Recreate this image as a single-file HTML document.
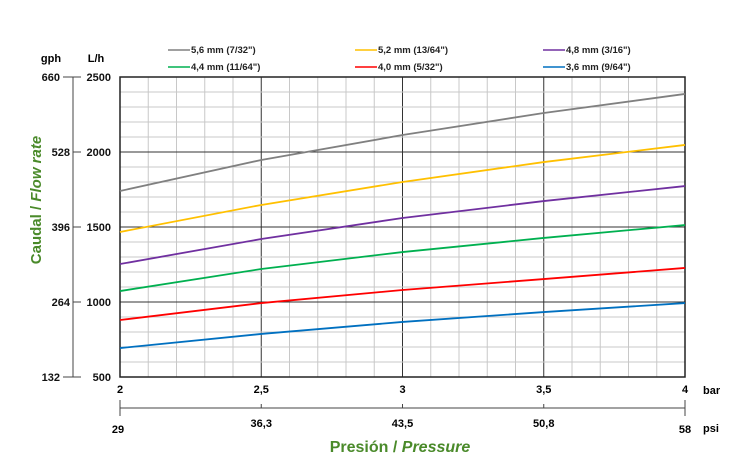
<!DOCTYPE html>
<html><head><meta charset="utf-8"><style>
body{margin:0;background:#fff;}
svg text{font-family:"Liberation Sans",sans-serif;}
</style></head><body>
<svg id="chart" width="741" height="470" xmlns="http://www.w3.org/2000/svg">
<g id="grid"></g>
<g id="series"></g>
<g id="axes"></g>
<g id="legend"></g>
<text x="41" y="200" transform="rotate(-90 41 200)" text-anchor="middle" font-size="15" font-weight="bold" fill="#4a8a2a">Caudal / <tspan font-style="italic">Flow rate</tspan></text>
<text x="400" y="452" text-anchor="middle" font-size="16" font-weight="bold" fill="#4a8a2a">Presión / <tspan font-style="italic">Pressure</tspan></text>
</svg>
<script>
const pressures=[2,2.5,3,3.5,4];
const barTicks=["2","2,5","3","3,5","4"];
const psiTicks=["29","36,3","43,5","50,8","58"];
const lhTicks=[500,1000,1500,2000,2500];
const gphTicks=["132","264","396","528","660"];
const seriesNames=['5,6 mm (7/32")','5,2 mm (13/64")','4,8 mm (3/16")','4,4 mm (11/64")','4,0 mm (5/32")','3,6 mm (9/64")'];
const seriesColors=["#808080","#ffc000","#7030a0","#00b050","#ff0000","#0070c0"];
const s56=[1740,1947,2113,2260,2387];
const s52=[1467,1647,1800,1933,2047];
const s48=[1253,1420,1560,1673,1773];
const s44=[1073,1220,1333,1427,1513];
const s40=[880,993,1080,1153,1227];
const s36=[693,787,867,933,993];
const allSeries=[s56,s52,s48,s44,s40,s36];
const X0=120,X1=685,Y0=377,Y1=77;
const xs=p=>X0+(p-2)/2*(X1-X0);
const ys=v=>Y0-(v-500)/2000*(Y0-Y1);
const NS="http://www.w3.org/2000/svg";
function mk(tag,attrs,parent){const e=document.createElementNS(NS,tag);for(const k in attrs)e.setAttribute(k,attrs[k]);parent.appendChild(e);return e;}
const grid=document.getElementById('grid');
for(let i=0;i<=20;i++){const p=2+i*0.1;const major=i%5===0;
 const l=mk('line',{x1:xs(p),x2:xs(p),y1:Y1,y2:Y0,stroke:major?'#333':'#c8c8c8','stroke-width':1},grid);
 
 }
for(let v=500;v<=2500;v+=100){const major=v%500===0;
 const l=mk('line',{x1:X0,x2:X1,y1:ys(v),y2:ys(v),stroke:major?'#333':'#c8c8c8','stroke-width':1},grid);
 
 }
const fr=mk('rect',{x:X0,y:Y1,width:X1-X0,height:Y0-Y1,fill:'none',stroke:'#222','stroke-width':1.5},grid);


const sg=document.getElementById('series');
allSeries.forEach((s,i)=>{
 const pts=s.map((v,j)=>xs(pressures[j])+','+ys(v)).join(' ');
 const pl=mk('polyline',{points:pts,fill:'none',stroke:seriesColors[i],'stroke-width':1.8},sg);
 
 
});
const ax=document.getElementById('axes');
mk('line',{x1:73,x2:73,y1:Y1,y2:Y0,stroke:'#444'},ax);
lhTicks.forEach((v,i)=>{
 const end=i===0||i===lhTicks.length-1;
 mk('line',{x1:end?63:73,x2:81,y1:ys(v),y2:ys(v),stroke:'#444'},ax);
 const t1=mk('text',{x:111,y:ys(v)+4,'text-anchor':'end','font-size':11,'font-weight':'bold',fill:'#111'},ax);t1.textContent=v;
 
 
 const t2=mk('text',{x:end?60:70,y:ys(v)+4,'text-anchor':'end','font-size':11,'font-weight':'bold',fill:'#111'},ax);t2.textContent=gphTicks[i];
 
 
});
let u=mk('text',{x:51,y:62,'text-anchor':'middle','font-size':11,'font-weight':'bold'},ax);u.textContent='gph';


u=mk('text',{x:96,y:62,'text-anchor':'middle','font-size':11,'font-weight':'bold'},ax);u.textContent='L/h';


mk('line',{x1:X0,x2:X1,y1:408,y2:408,stroke:'#444'},ax);
pressures.forEach((p,i)=>{
 const end=i===0||i===pressures.length-1;
 mk('line',{x1:xs(p),x2:xs(p),y1:end?400:404,y2:end?416:408,stroke:'#444'},ax);
 const t=mk('text',{x:xs(p),y:393,'text-anchor':'middle','font-size':11,'font-weight':'bold'},ax);t.textContent=barTicks[i];
 
 
 const t2=mk('text',{x:xs(p)-(i===0?2:0),y:end?433:427,'text-anchor':'middle','font-size':11,'font-weight':'bold'},ax);t2.textContent=psiTicks[i];
 
 
});
u=mk('text',{x:703,y:394,'font-size':11,'font-weight':'bold'},ax);u.textContent='bar';


u=mk('text',{x:703,y:432,'font-size':11,'font-weight':'bold'},ax);u.textContent='psi';


const lg=document.getElementById('legend');
const lx=[168,355,543];
seriesNames.forEach((n,i)=>{
 const col=i%3,row=Math.floor(i/3);const x=lx[col],y=row?67:50;
 const g=mk('g',{},lg);
 
 
 mk('line',{x1:x,x2:x+22,y1:y,y2:y,stroke:seriesColors[i],'stroke-width':1.6},g);
 const t=mk('text',{x:x+23,y:y+3,'font-size':9.5,'font-weight':'bold',fill:'#222'},g);t.textContent=n;
});
</script>
</body></html>
